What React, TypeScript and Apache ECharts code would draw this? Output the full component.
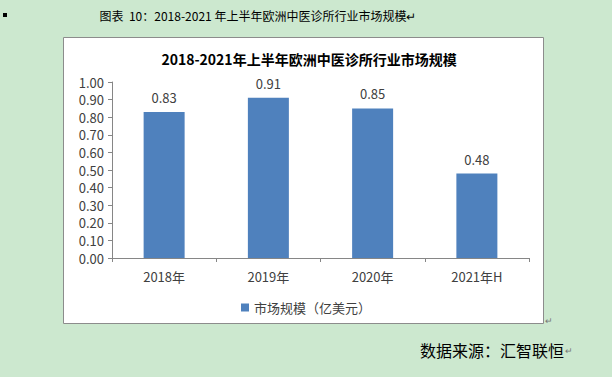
import React, { useEffect, useRef } from "react";
import * as echarts from "echarts";

const categories = ["2018年", "2019年", "2020年", "2021年H"];
const marketSize = [0.83, 0.91, 0.85, 0.48];
const seriesName = "市场规模（亿美元）";
const chartTitle = "2018-2021年上半年欧洲中医诊所行业市场规模";
const headerText = "图表  10：2018-2021 年上半年欧洲中医诊所行业市场规模";
const sourceText = "数据来源：汇智联恒";

export default function App() {
  const ref = useRef<HTMLDivElement>(null);
  useEffect(() => {
    document.body.style.margin = "0";
    const chart = echarts.init(ref.current!, null, { renderer: "svg" });
    const font = "'Noto Sans CJK SC', 'Noto Sans', sans-serif";
    chart.setOption({
      animation: false,
      backgroundColor: "#cce8cf",
      textStyle: { fontFamily: font },
      title: {
        text: chartTitle,
        left: 304,
        textAlign: "center",
        top: 47,
        textStyle: { fontSize: 14, fontWeight: "bold", color: "#000", fontFamily: font },
      },
      graphic: [
        {
          type: "rect",
          z: -10,
          shape: { x: 63.5, y: 37.5, width: 480, height: 286 },
          style: { fill: "#ffffff", stroke: "#8c8c8c", lineWidth: 1 },
        },
        {
          type: "rect",
          shape: { x: 3, y: 13, width: 4, height: 4 },
          style: { fill: "#000" },
        },
        {
          type: "text",
          x: 258,
          y: 15,
          style: {
            text: headerText + "↵",
            fontSize: 12,
            fontFamily: font,
            fill: "#000",
            align: "center",
            verticalAlign: "middle",
          },
        },
        {
          type: "text",
          x: 545,
          y: 321,
          style: { text: "↵", fontSize: 9, fill: "#777", verticalAlign: "middle" },
        },
        {
          type: "text",
          x: 420,
          y: 350,
          style: {
            text: sourceText,
            fontSize: 16,
            fontFamily: font,
            fill: "#000",
            verticalAlign: "middle",
          },
        },
        {
          type: "text",
          x: 565,
          y: 351,
          style: { text: "↵", fontSize: 9, fill: "#777", verticalAlign: "middle" },
        },
      ],
      legend: {
        data: [seriesName],
        left: 236,
        top: 296,
        icon: "rect",
        itemWidth: 8,
        itemHeight: 8,
        itemGap: 4,
        textStyle: { fontSize: 13, color: "#404040", fontFamily: font },
      },
      grid: { left: 112, right: 83, top: 82, bottom: 119 },
      xAxis: {
        type: "category",
        data: categories,
        axisLine: { lineStyle: { color: "#868686" } },
        axisTick: { show: true, alignWithLabel: false, length: 4, lineStyle: { color: "#868686" } },
        axisLabel: { fontSize: 13, color: "#404040", margin: 12 },
      },
      yAxis: {
        type: "value",
        min: 0,
        max: 1,
        interval: 0.1,
        splitLine: { show: false },
        axisLine: { show: true, lineStyle: { color: "#868686" } },
        axisTick: { show: true, length: 4, lineStyle: { color: "#868686" } },
        axisLabel: {
          fontSize: 13,
          color: "#404040",
          margin: 8,
          formatter: (v: number) => v.toFixed(2),
        },
      },
      series: [
        {
          name: seriesName,
          type: "bar",
          data: marketSize,
          barWidth: 41,
          itemStyle: { color: "#4f81bd" },
          label: {
            show: true,
            position: "top",
            distance: 8,
            fontSize: 13,
            color: "#404040",
            formatter: (p: any) => p.value.toFixed(2),
          },
        },
      ],
    });
    return () => chart.dispose();
  }, []);
  return <div ref={ref} style={{ width: 612, height: 377 }} />;
}
